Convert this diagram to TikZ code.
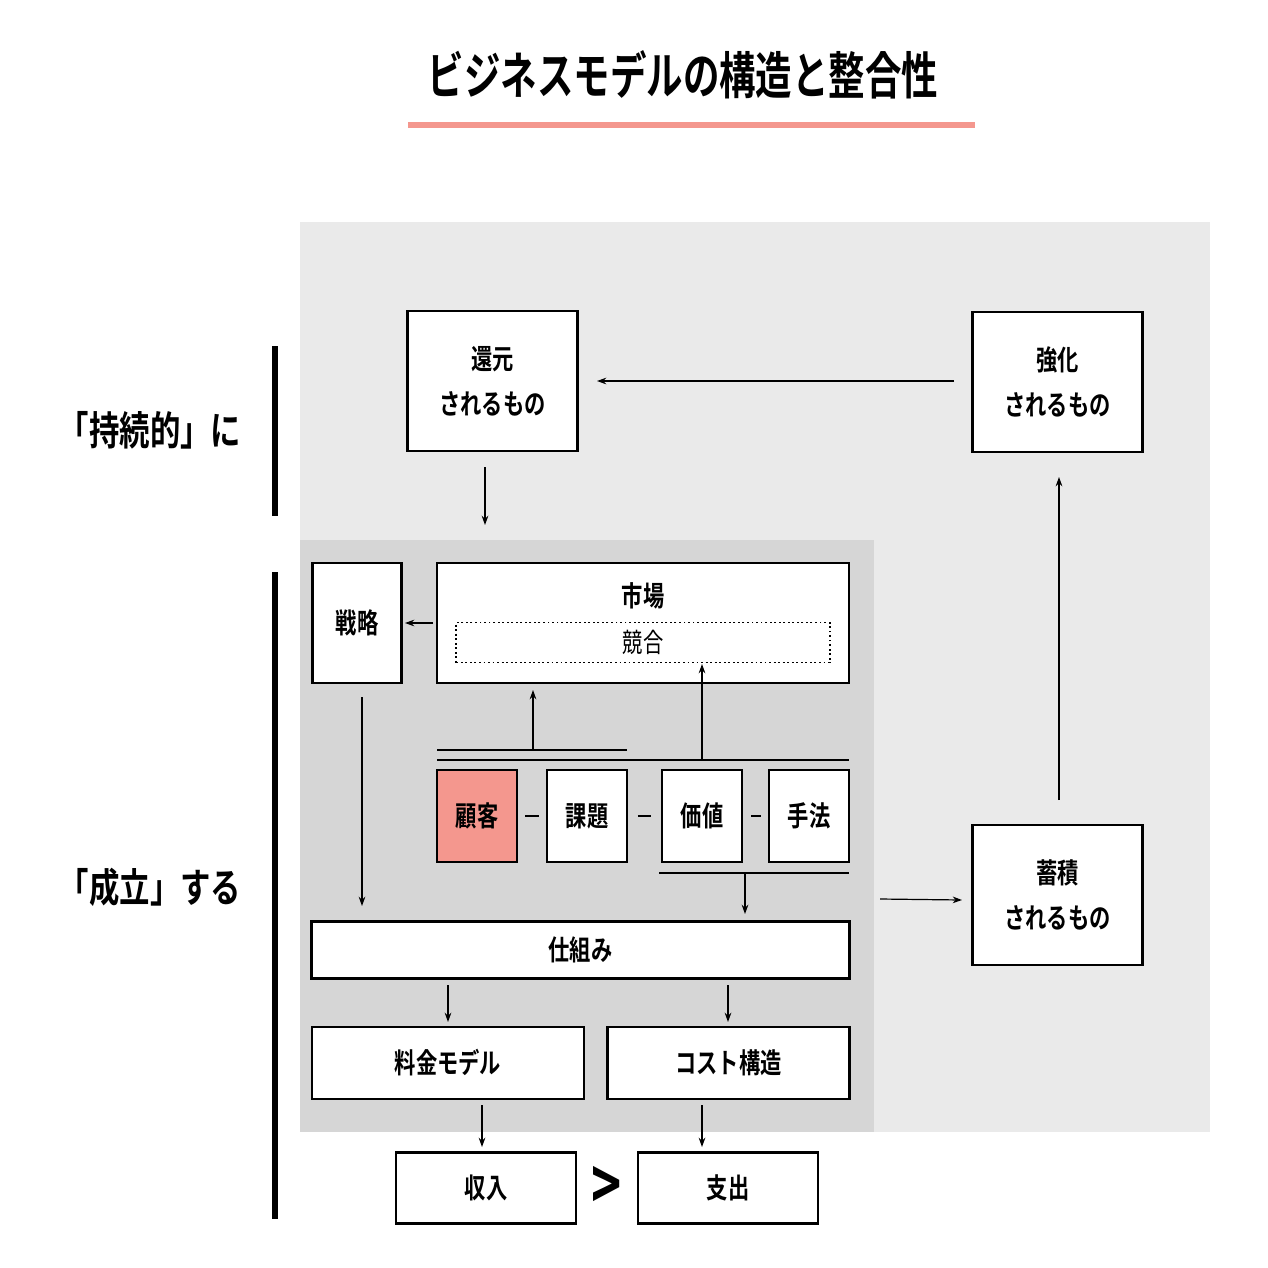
\documentclass[tikz,border=0pt]{standalone}
\usepackage{fontspec}
\setmainfont{Noto Sans CJK JP}[BoldFont={* Bold}]
\usetikzlibrary{arrows.meta}
\definecolor{bgA}{HTML}{EAEAEA}
\definecolor{bgB}{HTML}{D6D6D6}
\definecolor{pinkc}{HTML}{F4978E}
\newcommand{\cnd}[1]{\scalebox{0.76}[1]{#1}}
\tikzset{every picture/.style={line width=0.75pt}}
\tikzset{
  box/.style={draw, line width=2.2pt, fill=white, inner sep=0pt, align=center, font=\fontsize{21}{34}\selectfont\bfseries},
  arr/.style={-{Stealth[length=7pt,width=5pt]}, line width=0.9pt},
  bar/.style={line width=3.8pt},
  thin/.style={line width=1.2pt}
}
\begin{document}
\begin{tikzpicture}[x=0.75pt,y=0.75pt,yscale=-1,xscale=1]
\useasboundingbox (0,0) rectangle (1268,1268);

% Background
\fill[bgA] (300,222) rectangle (1210,1132);
\fill[bgB] (300,540) rectangle (874,1132);

% Title
\node (title) at (683,75) {\fontsize{38}{44}\selectfont\bfseries\scalebox{0.72}[1]{ビジネスモデルの構造と整合性}};
\draw[pinkc, line width=4.5pt] (408,125) -- (975,125);

% Side labels
\node (sus) at (150,430) {\fontsize{30}{36}\selectfont\bfseries\cnd{「持続的」に}};
\node (est) at (150,887) {\fontsize{30}{36}\selectfont\bfseries\cnd{「成立」する}};
\draw[bar] (275,346) -- (275,516);
\draw[bar] (275,572) -- (275,1219);

% Outer boxes
\node[box, minimum width=128pt, minimum height=105pt] (kangen) at (492.5,381) {\cnd{還元}\\\cnd{されるもの}};
\node[box, minimum width=128pt, minimum height=105pt] (kyouka) at (1057.5,382) {\cnd{強化}\\\cnd{されるもの}};
\node[box, minimum width=128pt, minimum height=105pt] (chikuseki) at (1057.5,895) {\cnd{蓄積}\\\cnd{されるもの}};

% Inner boxes
\node[box, minimum width=67pt, minimum height=90pt] (senryaku) at (357,623) {\cnd{戦略}};
\node[box, minimum width=309pt, minimum height=90pt] (shijou) at (643,623) {};
\node[font=\fontsize{21}{24}\selectfont\bfseries] (shijoulbl) at (643,596) {\cnd{市場}};
\node[draw, dotted, line width=1.4pt, minimum width=280pt, minimum height=30pt, font=\fontsize{20}{24}\selectfont] (kyougou) at (643,642.5) {\cnd{競合}};

\node[box, fill=pinkc, minimum width=60pt, minimum height=69pt] (kokyaku) at (477,816) {\cnd{顧客}};
\node[box, minimum width=60pt, minimum height=69pt] (kadai) at (587,816) {\cnd{課題}};
\node[box, minimum width=60pt, minimum height=69pt] (kachi) at (702,816) {\cnd{価値}};
\node[box, minimum width=60pt, minimum height=69pt] (shuhou) at (809,816) {\cnd{手法}};
\draw[thin] ([xshift=5]kokyaku.east) -- ([xshift=-5]kadai.west);
\draw[thin] ([xshift=7]kadai.east) -- ([xshift=-7]kachi.west);
\draw[thin] ([xshift=6]kachi.east) -- ([xshift=-5]shuhou.west);

\node[box, minimum width=403pt, minimum height=43pt] (shikumi) at (580.5,950) {\cnd{仕組み}};
\node[box, minimum width=204pt, minimum height=54pt] (ryoukin) at (448,1063) {\cnd{料金モデル}};
\node[box, minimum width=181pt, minimum height=54pt] (cost) at (728.5,1063) {\cnd{コスト構造}};
\node[box, minimum width=135pt, minimum height=53pt] (shuunyuu) at (486,1188) {\cnd{収入}};
\node[box, minimum width=135pt, minimum height=53pt] (shishutsu) at (728,1188) {\cnd{支出}};
\node (gt) at (607,1188) {\fontsize{48}{50}\selectfont\bfseries\scalebox{0.8}[1.1]{>}};

% Lines over the row
\coordinate (l1a) at (437,750); \coordinate (l1b) at (627,750);
\coordinate (l2a) at (437,760); \coordinate (l2b) at (849,760);
\coordinate (l3a) at (659,873); \coordinate (l3b) at (849,873);
\draw[thin] (l1a) -- (l1b);
\draw[thin] (l2a) -- (l2b);
\draw[thin] (l3a) -- (l3b);

% Arrows
\draw[arr] (954,381) -- (597,381);
\draw[arr] (485,467) -- (485,525);
\draw[arr] (1059,800) -- (1059,477);
\draw[arr] (880,899) -- (962,900);
\draw[arr] (433,623) -- (405,623);
\draw[arr] (533,750) -- (533,690);
\draw[arr] (702,760) -- (702,664);
\draw[arr] (745,873) -- (745,914);
\draw[arr] (362,697) -- (362,906);
\draw[arr] (448,985) -- (448,1022);
\draw[arr] (728,985) -- (728,1022);
\draw[arr] (482,1105) -- (482,1147);
\draw[arr] (702,1105) -- (702,1147);
\end{tikzpicture}
\end{document}
